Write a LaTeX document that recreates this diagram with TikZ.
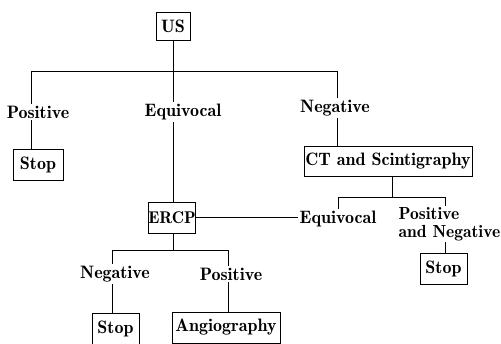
\documentclass[tikz,border=0pt]{standalone}
\begin{document}
\begin{tikzpicture}[x=1pt,y=-1pt,
  every node/.style={font=\fontsize{18}{19}\fontseries{b}\selectfont},
  box/.style={draw,line width=0.9pt,inner sep=0pt,minimum height=#1},
  box/.default=31pt,
  lab/.style={inner sep=2pt},
  conn/.style={line width=0.9pt}]
\useasboundingbox (0,0) rectangle (501,343);
\clip (0,0) rectangle (501,343);
% boxes
\node[box=28pt,minimum width=34pt] (us) at (173,26) {US};
\node[box,minimum width=50pt] (stopA) at (38,164.5) {Stop};
\node[box,minimum width=46pt,font=\fontsize{17}{19}\fontseries{b}\selectfont] (ercp) at (172,217.5) {ERCP};
\node[box=30pt,minimum width=168pt] (ct) at (388,161) {CT and Scintigraphy};
\node[box,minimum width=47pt] (stopC) at (443.5,268.5) {Stop};
\node[box,minimum width=47pt] (stopB) at (115.5,328.5) {Stop};
\node[box,minimum width=108pt] (angio) at (226,327.5) {Angiography};
% labels
\node[lab] (posA) at (38,112) {Positive};
\node[lab] (equA) at (183,112) {Equivocal};
\node[lab] (negA) at (335,108) {Negative};
\node[lab] (equB) at (338,219) {Equivocal};
\node[lab,align=left,inner sep=1pt,font=\fontsize{17.5}{18}\fontseries{b}\selectfont] (posneg) at (449.5,224) {Positive\\and Negative};
\node[lab] (negB) at (115,274) {Negative};
\node[lab] (posB) at (231,274) {Positive};
% bar 1
\coordinate (b1L) at (31,71);
\coordinate (b1M) at (173,71);
\coordinate (b1R) at (337,71);
\draw[conn] (us.south) -- (b1M);
\draw[conn] (b1L) -- (b1R);
\draw[conn] (b1L) -- (b1L |- posA.north);
\draw[conn] (b1L |- posA.south) -- (b1L |- stopA.north);
\draw[conn] (b1M) -- (b1M |- equA.north);
\draw[conn] (b1M |- equA.south) -- (b1M |- ercp.north);
\draw[conn] (b1R) -- (b1R |- negA.north);
\draw[conn] (b1R |- negA.south) -- (b1R |- ct.north);
% bar 2
\coordinate (b2M) at (392,197);
\coordinate (b2L) at (338,197);
\coordinate (b2R) at (445,197);
\draw[conn] (b2M |- ct.south) -- (b2M);
\draw[conn] (b2L) -- (b2R);
\draw[conn] (b2L) -- (b2L |- equB.north);
\draw[conn] (b2R) -- (b2R |- posneg.north);
\draw[conn] (b2R |- posneg.south) -- (b2R |- stopC.north);
\draw[conn] (ercp.east) -- (ercp.east -| equB.west);
% bar 3
\coordinate (b3M) at (173,250);
\coordinate (b3L) at (112,250);
\coordinate (b3R) at (228,250);
\draw[conn] (b3M |- ercp.south) -- (b3M);
\draw[conn] (b3L) -- (b3R);
\draw[conn] (b3L) -- (b3L |- negB.north);
\draw[conn] (b3L |- negB.south) -- (b3L |- stopB.north);
\draw[conn] (b3R) -- (b3R |- posB.north);
\draw[conn] (b3R |- posB.south) -- (b3R |- angio.north);
\end{tikzpicture}
\end{document}
